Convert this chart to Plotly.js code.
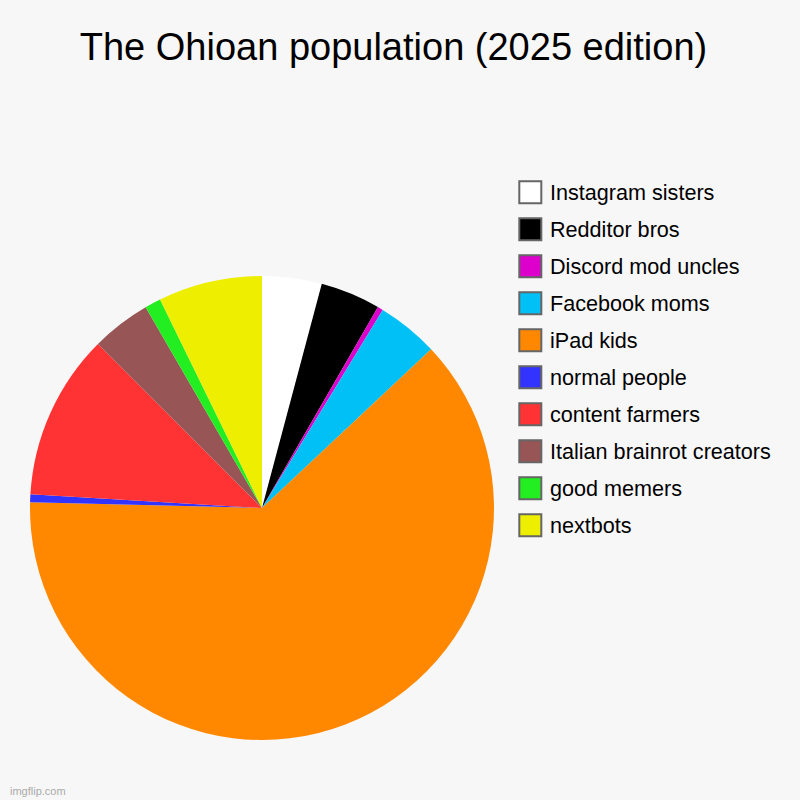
<!DOCTYPE html>
<html>
<head>
<meta charset="utf-8">
<script src="https://cdn.plot.ly/plotly-3.0.1.min.js"></script>
<style>html,body{margin:0;padding:0;background:#f7f7f7;}</style>
</head>
<body>
<div id="chart" style="width:800px;height:800px;"></div>
<script>
// Data (percent of the pie)
var categories = ["Instagram sisters", "Redditor bros", "Discord mod uncles", "Facebook moms", "iPad kids",
                  "normal people", "content farmers", "Italian brainrot creators", "good memers", "nextbots"];
var values = [4.15, 4.18, 0.38, 4.29, 62.39, 0.55, 11.56, 4.14, 1.12, 7.24];
var colors = ["#ffffff", "#000000", "#dd00cc", "#00c0f5", "#ff8800", "#3333ff", "#ff3333", "#985555", "#22ee22", "#eeee00"];
var chartTitle = "The Ohioan population (2025 edition)";
var watermark = "imgflip.com";

var W = 800, H = 800;
function px(x) { return x / W; }
function py(y) { return 1 - y / H; }

var trace = {
  type: "pie",
  labels: categories,
  values: values,
  sort: false,
  direction: "clockwise",
  rotation: 0,
  marker: { colors: colors, line: { width: 0 } },
  textinfo: "none",
  hoverinfo: "label+percent",
  showlegend: false,
  domain: { x: [px(30), px(494)], y: [py(740), py(276)] }
};

// Legend drawn from the category/color arrays
var shapes = [], annotations = [];
var legTop = 192.3, legStep = 37;
for (var i = 0; i < categories.length; i++) {
  var cy = legTop + i * legStep;
  shapes.push({
    type: "rect", xref: "paper", yref: "paper",
    x0: px(519.3), x1: px(541.3), y0: py(cy + 11), y1: py(cy - 11),
    fillcolor: colors[i], line: { color: "#666666", width: 2 }
  });
  annotations.push({
    xref: "paper", yref: "paper", x: px(547.5), y: py(cy + 0.5),
    xanchor: "left", yanchor: "middle", showarrow: false,
    text: categories[i],
    font: { family: "Liberation Sans, Arial, sans-serif", size: 21.6, color: "#000000" }
  });
}
annotations.push({
  xref: "paper", yref: "paper", x: px(8), y: py(791),
  xanchor: "left", yanchor: "middle", showarrow: false,
  text: watermark,
  font: { family: "Liberation Sans, Arial, sans-serif", size: 11, color: "#aaaaaa" }
});

var layout = {
  width: W, height: H,
  margin: { l: 0, r: 0, t: 0, b: 0 },
  paper_bgcolor: "#f7f7f7",
  plot_bgcolor: "#f7f7f7",
  title: {
    text: chartTitle,
    x: px(393.5), xanchor: "center",
    y: py(47), yanchor: "middle", yref: "container",
    font: { family: "Liberation Sans, Arial, sans-serif", size: 38, color: "#000000" }
  },
  shapes: shapes,
  annotations: annotations,
  showlegend: false
};

Plotly.newPlot("chart", [trace], layout, { displayModeBar: false, staticPlot: true });
</script>
</body>
</html>
